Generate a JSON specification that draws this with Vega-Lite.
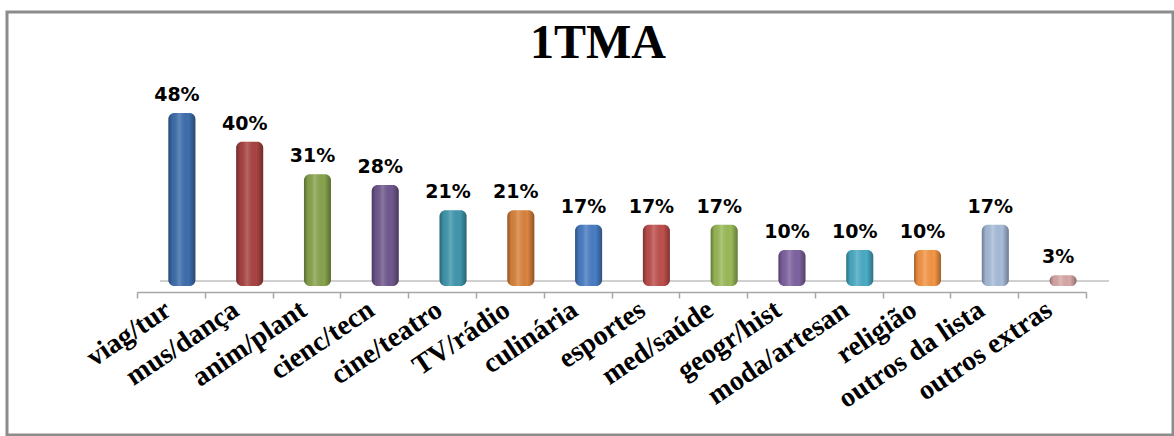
{
  "$schema": "https://vega.github.io/schema/vega-lite/v6.json",
  "width": 1166,
  "height": 423,
  "padding": {"left": 7, "top": 12, "right": 1, "bottom": 1},
  "autosize": {"type": "none"},
  "background": "white",
  "config": {"view": {"stroke": "#8c8c8c", "strokeWidth": 3}},
  "title": {
    "text": "1TMA",
    "font": "Liberation Serif",
    "fontWeight": "bold",
    "fontSize": 48,
    "color": "black",
    "anchor": "middle",
    "frame": "group",
    "baseline": "alphabetic",
    "offset": -94,
    "dx": 8
  },
  "data": {
    "values": [
      {"cat": "viag/tur", "pct": 0.48, "col": "#3E6FAE"},
      {"cat": "mus/dança", "pct": 0.40, "col": "#A94442"},
      {"cat": "anim/plant", "pct": 0.31, "col": "#89A54E"},
      {"cat": "cienc/tecn", "pct": 0.28, "col": "#71588F"},
      {"cat": "cine/teatro", "pct": 0.21, "col": "#4198AF"},
      {"cat": "TV/rádio", "pct": 0.21, "col": "#DB843D"},
      {"cat": "culinária", "pct": 0.17, "col": "#4A7EC5"},
      {"cat": "esportes", "pct": 0.17, "col": "#C0504D"},
      {"cat": "med/saúde", "pct": 0.17, "col": "#9BBB59"},
      {"cat": "geogr/hist", "pct": 0.10, "col": "#8064A2"},
      {"cat": "moda/artesan", "pct": 0.10, "col": "#4BACC6"},
      {"cat": "religião", "pct": 0.10, "col": "#F79646"},
      {"cat": "outros da lista", "pct": 0.17, "col": "#A9BEDB"},
      {"cat": "outros extras", "pct": 0.03, "col": "#D9A9A8"}
    ]
  },
  "encoding": {
    "x": {
      "field": "cat",
      "type": "nominal",
      "sort": null,
      "scale": {"range": [130, 1079], "paddingInner": 0, "paddingOuter": 0},
      "axis": {
        "title": null,
        "offset": -143,
        "domainColor": "#a6a6a6",
        "domainWidth": 1.5,
        "tickColor": "#a6a6a6",
        "tickWidth": 1.5,
        "tickSize": 6,
        "tickBand": "extent",
        "labelAngle": -34,
        "labelAlign": "right",
        "labelBaseline": "middle",
        "labelPadding": 9,
        "labelOffset": -3,
        "labelFont": "Liberation Serif",
        "labelFontWeight": "bold",
        "labelFontSize": 28,
        "labelColor": "black",
        "labelLimit": 300,
        "labelOverlap": false
      }
    }
  },
  "layer": [
    {
      "mark": {"type": "tick", "orient": "horizontal", "color": "#a6a6a6", "size": 68, "thickness": 1.5, "xOffset": 23, "yOffset": -5},
      "encoding": {
        "y": {
          "datum": 0,
          "type": "quantitative",
          "scale": {"domain": [-0.413, 0.76], "nice": false, "zero": false},
          "axis": null
        }
      }
    },
    {
      "mark": {"type": "bar", "width": 27, "xOffset": 11, "cornerRadius": 6},
      "encoding": {
        "y": {"field": "pct", "type": "quantitative"},
        "y2": {"datum": 0},
        "color": {"field": "col", "type": "nominal", "scale": null, "legend": null}
      }
    },
    {
      "mark": {
        "type": "bar",
        "width": 27,
        "xOffset": 11,
        "cornerRadius": 6,
        "color": {
          "gradient": "linear",
          "x1": 0, "x2": 1, "y1": 0, "y2": 0,
          "stops": [
            {"offset": 0, "color": "rgba(0,0,0,0.35)"},
            {"offset": 0.15, "color": "rgba(0,0,0,0.05)"},
            {"offset": 0.4, "color": "rgba(255,255,255,0.18)"},
            {"offset": 0.75, "color": "rgba(0,0,0,0.0)"},
            {"offset": 1, "color": "rgba(0,0,0,0.35)"}
          ]
        }
      },
      "encoding": {
        "y": {"field": "pct", "type": "quantitative"},
        "y2": {"datum": 0}
      }
    },
    {
      "mark": {
        "type": "text",
        "font": "DejaVu Sans",
        "fontWeight": "bold",
        "fontSize": 19,
        "color": "black",
        "baseline": "alphabetic",
        "align": "center",
        "xOffset": 6,
        "dy": -12
      },
      "encoding": {
        "y": {"field": "pct", "type": "quantitative"},
        "text": {"field": "pct", "type": "quantitative", "format": ".0%"}
      }
    }
  ]
}
